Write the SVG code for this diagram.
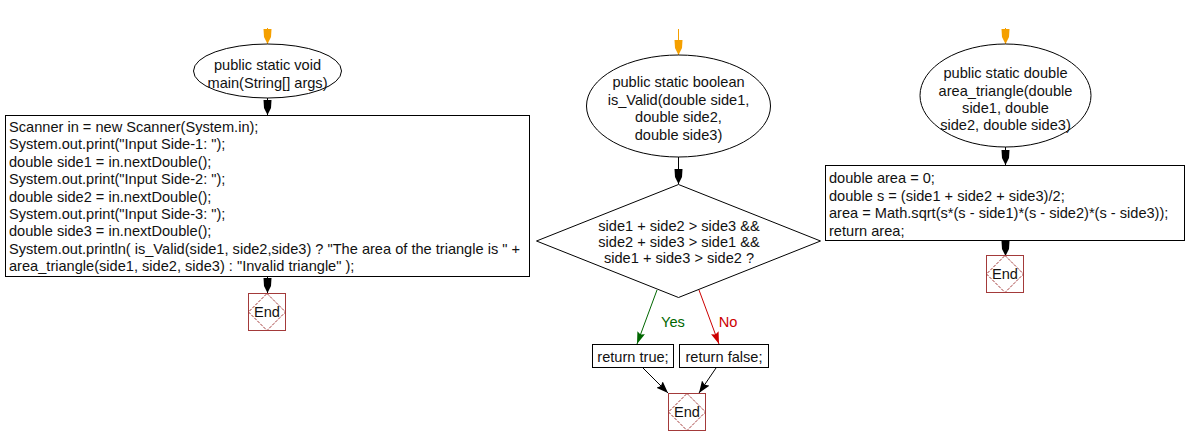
<svg xmlns="http://www.w3.org/2000/svg" width="1187" height="446" viewBox="0 0 1187 446">
<style>
text{font-family:"Liberation Sans",Arial,sans-serif;font-size:14.6px;fill:#111}
.c{text-anchor:middle}
.shape{fill:#fff;stroke:#000;stroke-width:1}
.endbox{fill:#fff;stroke:#a33a3a;stroke-width:1}
.enddia{fill:none;stroke:#a33a3a;stroke-width:1;stroke-dasharray:3 1.2}
.flow{stroke:#000;stroke-width:1;fill:none}
.start{stroke:#f5a000;stroke-width:1;fill:none}
.yes{stroke:#006600;stroke-width:1;fill:none}
.no{stroke:#cc0000;stroke-width:1;fill:none}
.ly{fill:#006600}
.ln{fill:#cc0000}
</style>
<defs>
<marker id="ab" markerUnits="userSpaceOnUse" markerWidth="16" markerHeight="10" refX="15" refY="4.5" orient="auto" viewBox="0 0 16 10">
<path d="M0,0.5 L8,1 L15,4.5 L8,8 L0,8.5 Z" fill="#000"/>
</marker>
<marker id="ao" markerUnits="userSpaceOnUse" markerWidth="16" markerHeight="10" refX="15" refY="4.5" orient="auto" viewBox="0 0 16 10">
<path d="M0,0.5 L8,1 L15,4.5 L8,8 L0,8.5 Z" fill="#f5a000"/>
</marker>
<marker id="ag" markerUnits="userSpaceOnUse" markerWidth="14" markerHeight="10" refX="12" refY="4" orient="auto" viewBox="0 0 14 10">
<path d="M0,0 L12,4 L0,8 L2,4 Z" fill="#006600"/>
</marker>
<marker id="ar" markerUnits="userSpaceOnUse" markerWidth="14" markerHeight="10" refX="12" refY="4" orient="auto" viewBox="0 0 14 10">
<path d="M0,0 L12,4 L0,8 L2,4 Z" fill="#cc0000"/>
</marker>
<marker id="ak" markerUnits="userSpaceOnUse" markerWidth="14" markerHeight="10" refX="12" refY="4.5" orient="auto" viewBox="0 0 14 10">
<path d="M0,0 L12,4.5 L0,9 L2,4.5 Z" fill="#000"/>
</marker>
</defs>

<g id="connectors">
<line class="start" x1="267.5" y1="28" x2="267.5" y2="44" marker-end="url(#ao)"/>
<line class="flow" x1="267.5" y1="98" x2="267.5" y2="115" marker-end="url(#ab)"/>
<line class="flow" x1="267.5" y1="277" x2="267.5" y2="293" marker-end="url(#ab)"/>
<line class="start" x1="678.5" y1="29" x2="678.5" y2="55" marker-end="url(#ao)"/>
<line class="flow" x1="678.5" y1="157" x2="678.5" y2="184" marker-end="url(#ab)"/>
<line class="yes" x1="657" y1="290" x2="637" y2="344" marker-end="url(#ag)"/>
<line class="no" x1="699" y1="290" x2="719" y2="344" marker-end="url(#ar)"/>
<line class="flow" x1="643" y1="368" x2="668" y2="393" marker-end="url(#ak)"/>
<line class="flow" x1="716" y1="368" x2="699" y2="393" marker-end="url(#ak)"/>
<line class="start" x1="1005.5" y1="28" x2="1005.5" y2="44" marker-end="url(#ao)"/>
<line class="flow" x1="1005.5" y1="147" x2="1005.5" y2="165" marker-end="url(#ab)"/>
<line class="flow" x1="1005.5" y1="241" x2="1005.5" y2="256" marker-end="url(#ab)"/>
<text class="ly" x="673" y="327" text-anchor="middle">Yes</text>
<text class="ln" x="728" y="327" text-anchor="middle">No</text>
</g>

<g id="main-start">
<ellipse class="shape" cx="267.5" cy="71" rx="74" ry="27"/>
<text class="c" x="267.5" y="70">public static void</text>
<text class="c" x="267.5" y="88">main(String[] args)</text>
</g>

<g id="main-body">
<rect class="shape" x="5.5" y="115.5" width="524" height="161"/>
<text x="9" y="132">Scanner in = new Scanner(System.in);</text>
<text x="9" y="149.4">System.out.print("Input Side-1: ");</text>
<text x="9" y="166.8">double side1 = in.nextDouble();</text>
<text x="9" y="184.2">System.out.print("Input Side-2: ");</text>
<text x="9" y="201.6">double side2 = in.nextDouble();</text>
<text x="9" y="219">System.out.print("Input Side-3: ");</text>
<text x="9" y="236.4">double side3 = in.nextDouble();</text>
<text x="9" y="253.8">System.out.println( is_Valid(side1, side2,side3) ? "The area of the triangle is " +</text>
<text x="9" y="271.2">area_triangle(side1, side2, side3) : "Invalid triangle" );</text>
</g>

<g id="main-end">
<rect class="endbox" x="248.5" y="293.5" width="37" height="37"/>
<path class="enddia" d="M267,293.5 L285.5,312 L267,330.5 L248.5,312 Z"/>
<text class="c" x="267" y="317">End</text>
</g>

<g id="valid-start">
<ellipse class="shape" cx="678.5" cy="106" rx="92" ry="51"/>
<text class="c" x="678.5" y="87">public static boolean</text>
<text class="c" x="678.5" y="105">is_Valid(double side1,</text>
<text class="c" x="678.5" y="122">double side2,</text>
<text class="c" x="678.5" y="140">double side3)</text>
</g>

<g id="valid-decision">
<path class="shape" d="M678.5,184.5 L820.5,241 L678.5,297.5 L536.5,241 Z"/>
<text class="c" x="679" y="231">side1 + side2 &gt; side3 &amp;&amp;</text>
<text class="c" x="679" y="247">side2 + side3 &gt; side1 &amp;&amp;</text>
<text class="c" x="679" y="263">side1 + side3 &gt; side2 ?</text>
</g>

<g id="valid-true">
<rect class="shape" x="592.5" y="344.5" width="81" height="23"/>
<text class="c" x="633" y="362">return true;</text>
</g>

<g id="valid-false">
<rect class="shape" x="679.5" y="344.5" width="89" height="23"/>
<text class="c" x="724" y="362">return false;</text>
</g>

<g id="valid-end">
<rect class="endbox" x="668.5" y="393.5" width="37" height="37"/>
<path class="enddia" d="M687,393.5 L705.5,412 L687,430.5 L668.5,412 Z"/>
<text class="c" x="687" y="417">End</text>
</g>

<g id="area-start">
<ellipse class="shape" cx="1005.5" cy="95.5" rx="85.5" ry="51.5"/>
<text class="c" x="1005.5" y="78">public static double</text>
<text class="c" x="1005.5" y="96">area_triangle(double</text>
<text class="c" x="1005.5" y="113">side1, double</text>
<text class="c" x="1005.5" y="130">side2, double side3)</text>
</g>

<g id="area-body">
<rect class="shape" x="825.5" y="165.5" width="359" height="75"/>
<text x="829" y="183">double area = 0;</text>
<text x="829" y="201">double s = (side1 + side2 + side3)/2;</text>
<text x="829" y="218">area = Math.sqrt(s*(s - side1)*(s - side2)*(s - side3));</text>
<text x="829" y="236">return area;</text>
</g>

<g id="area-end">
<rect class="endbox" x="986.5" y="255.5" width="37" height="37"/>
<path class="enddia" d="M1005,255.5 L1023.5,274 L1005,292.5 L986.5,274 Z"/>
<text class="c" x="1005" y="279">End</text>
</g>
</svg>
